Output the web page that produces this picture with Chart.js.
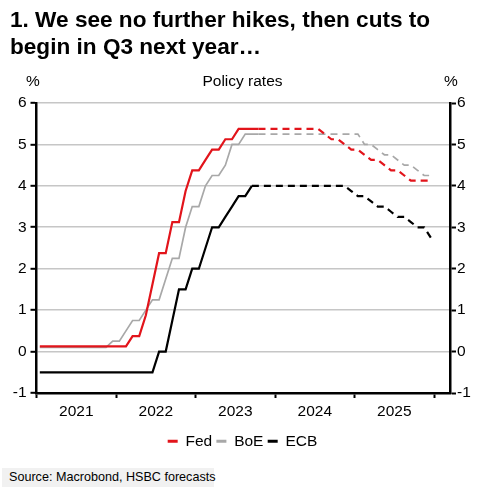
<!DOCTYPE html>
<html>
<head>
<meta charset="utf-8">
<script src="https://cdn.jsdelivr.net/npm/chart.js@4.4.0/dist/chart.umd.min.js"></script>
<style>
  html, body { margin: 0; padding: 0; background: #fff; }
  body { width: 485px; height: 500px; position: relative; overflow: hidden; }
  #wrap { position: absolute; left: 0; top: 0; width: 485px; height: 459px; }
  .txt { position: absolute; color: #000; white-space: nowrap; }
  #title { left: 10px; top: 6px; font: bold 22.6px 'Liberation Sans', Arial, sans-serif; line-height: 27px; }
  #sub { left: 0; width: 485px; text-align: center; top: 72px; }
  #pctL { left: 23px; width: 20px; text-align: center; top: 72px; }
  #pctR { left: 441px; width: 20px; text-align: center; top: 72px; }
  #src { left: 2px; top: 468px; height: 19px; width: 205px; padding-left: 7px; background: #f1f1f1; }
</style>
</head>
<body>
<div id="wrap"><canvas id="c"></canvas></div>
<div id="title" class="txt">1. We see no further hikes, then cuts to<br>begin in Q3 next year…</div>
<div id="sub" class="txt">Policy rates</div>
<div id="pctL" class="txt">%</div>
<div id="pctR" class="txt">%</div>
<div id="src" class="txt">Source: Macrobond, HSBC forecasts</div>
<script>
// ---- Data (monthly, Jan 2021 .. Dec 2025, month-end policy rates, %) ----
const yearLabels = ['2021', '2022', '2023', '2024', '2025'];
const yTicks = [6, 5, 4, 3, 2, 1, 0, -1];
const seriesNames = ['Fed', 'BoE', 'ECB'];
const lastActualIndex = [33, 33, 32]; // last month of actual data; forecast (dashed) after this

const fed = [
  0.125, 0.125, 0.125, 0.125, 0.125, 0.125, 0.125, 0.125, 0.125, 0.125, 0.125, 0.125, // 2021
  0.125, 0.125, 0.375, 0.375, 0.875, 1.625, 2.375, 2.375, 3.125, 3.125, 3.875, 4.375, // 2022
  4.375, 4.625, 4.875, 4.875, 5.125, 5.125, 5.375, 5.375, 5.375, 5.375, 5.375, 5.375, // 2023
  5.375, 5.375, 5.375, 5.375, 5.375, 5.375, 5.375, 5.25, 5.125, 5.125, 5.0, 4.875,    // 2024
  4.875, 4.75, 4.625, 4.625, 4.5, 4.375, 4.375, 4.25, 4.125, 4.125, 4.125, 4.125      // 2025
];
const boe = [
  0.1, 0.1, 0.1, 0.1, 0.1, 0.1, 0.1, 0.1, 0.1, 0.1, 0.1, 0.25,                       // 2021
  0.25, 0.5, 0.75, 0.75, 1.0, 1.25, 1.25, 1.75, 2.25, 2.25, 3.0, 3.5,                // 2022
  3.5, 4.0, 4.25, 4.25, 4.5, 5.0, 5.0, 5.25, 5.25, 5.25, 5.25, 5.25,                 // 2023
  5.25, 5.25, 5.25, 5.25, 5.25, 5.25, 5.25, 5.25, 5.25, 5.25, 5.25, 5.25,            // 2024
  5.25, 5.0, 5.0, 4.875, 4.75, 4.75, 4.625, 4.5, 4.5, 4.375, 4.25, 4.25              // 2025
];
const ecb = [
  -0.5, -0.5, -0.5, -0.5, -0.5, -0.5, -0.5, -0.5, -0.5, -0.5, -0.5, -0.5,            // 2021
  -0.5, -0.5, -0.5, -0.5, -0.5, -0.5, 0.0, 0.0, 0.75, 1.5, 1.5, 2.0,                 // 2022
  2.0, 2.5, 3.0, 3.0, 3.25, 3.5, 3.75, 3.75, 4.0, 4.0, 4.0, 4.0,                     // 2023
  4.0, 4.0, 4.0, 4.0, 4.0, 4.0, 4.0, 4.0, 4.0, 4.0, 4.0, 3.875,                      // 2024
  3.75, 3.75, 3.625, 3.5, 3.5, 3.375, 3.25, 3.25, 3.125, 3.0, 3.0, 2.75              // 2025
];
const seriesValues = [fed, boe, ecb];
const seriesColors = ['#e2141b', '#a8a8a8', '#000000'];
const seriesWidths = [2.2, 1.7, 2.2];

// ---- Fonts: prefer a narrow sans (as in the reference), fall back to regular ----
const narrowOK = (() => {
  const c = document.createElement('canvas').getContext('2d');
  c.font = "40px 'Liberation Sans Narrow', monospace";
  const a = c.measureText('Policy rates 2021').width;
  c.font = "40px monospace";
  const b = c.measureText('Policy rates 2021').width;
  return Math.abs(a - b) > 1;
})();
const FAM = narrowOK ? "'Liberation Sans Narrow', 'Liberation Sans', Arial, sans-serif"
                     : "'Liberation Sans', Arial, sans-serif";
const FS = narrowOK ? 18 : 15.5;
const SRC_FS = narrowOK ? 15 : 12.6;
['sub', 'pctL', 'pctR'].forEach(id => {
  const el = document.getElementById(id);
  el.style.fontFamily = FAM; el.style.fontSize = FS + 'px'; el.style.lineHeight = '18px';
});
const srcEl = document.getElementById('src');
srcEl.style.fontFamily = FAM; srcEl.style.fontSize = SRC_FS + 'px'; srcEl.style.lineHeight = '19px';

// ---- Build datasets from arrays ----
const datasets = seriesNames.map((name, s) => ({
  label: name,
  data: seriesValues[s].map((v, i) => ({ x: i + 0.5, y: v })),
  borderColor: seriesColors[s],
  backgroundColor: seriesColors[s],
  borderWidth: seriesWidths[s],
  pointRadius: 0,
  pointHoverRadius: 0,
  tension: 0,
  fill: false,
  borderCapStyle: 'butt',
  order: s,
  segment: {
    borderDash: ctx => ctx.p0DataIndex >= lastActualIndex[s] ? [7, 5] : undefined
  }
}));

const CHART_BOTTOM = 393;
const legendPad = Math.max(0, 453 - 441 - FS / 2);

new Chart(document.getElementById('c'), {
  type: 'line',
  data: { datasets },
  options: {
    responsive: true,
    maintainAspectRatio: false,
    animation: false,
    events: [],
    layout: { padding: { top: 103, left: 0, right: 0, bottom: 0 } },
    plugins: {
      title: { display: false },
      tooltip: { enabled: false },
      legend: {
        display: true,
        position: 'bottom',
        align: 'center',
        labels: {
          boxWidth: 10,
          boxHeight: 3,
          padding: legendPad,
          color: '#000',
          font: { family: FAM, size: FS },
          generateLabels: chart => chart.data.datasets.map((d, i) => ({
            text: d.label,
            fillStyle: d.borderColor,
            strokeStyle: d.borderColor,
            lineWidth: 0,
            hidden: false,
            datasetIndex: i,
            fontColor: '#000'
          }))
        }
      }
    },
    scales: {
      x: {
        type: 'linear',
        min: 0,
        max: 62.4,
        afterBuildTicks: axis => {
          const t = [];
          for (let v = 0; v <= 60; v += 6) t.push({ value: v });
          axis.ticks = t;
        },
        afterFit: scale => {
          const ch = scale.chart;
          const lh = ch.legend ? ch.legend.height : 0;
          scale.height = ch.height - CHART_BOTTOM - lh;
        },
        ticks: {
          autoSkip: false,
          maxRotation: 0,
          padding: 4,
          color: '#000',
          font: { family: FAM, size: FS },
          callback: v => (v % 12 === 6) ? yearLabels[(v - 6) / 12] : ''
        },
        grid: {
          drawOnChartArea: false,
          drawTicks: true,
          tickLength: 5,
          tickWidth: 2,
          tickColor: ctx => (ctx.tick && ctx.tick.value % 12 === 0) ? '#000' : 'rgba(0,0,0,0)'
        },
        border: { display: true, color: '#000', width: 2.5 }
      },
      y: {
        position: 'left',
        min: -1,
        max: 6,
        afterBuildTicks: axis => { axis.ticks = yTicks.map(v => ({ value: v })); },
        afterFit: scale => { scale.width = 36.5; },
        ticks: {
          padding: 4,
          color: '#000',
          font: { family: FAM, size: FS },
          callback: v => String(v)
        },
        grid: {
          color: '#c6c6c6',
          lineWidth: 1.6,
          drawTicks: true,
          tickLength: 6,
          tickWidth: 2,
          tickColor: '#000'
        },
        border: { display: true, color: '#000', width: 2.5 }
      },
      y2: {
        position: 'right',
        min: -1,
        max: 6,
        afterBuildTicks: axis => { axis.ticks = yTicks.map(v => ({ value: v })); },
        afterFit: scale => { scale.width = 35; },
        ticks: {
          padding: 1,
          color: '#000',
          font: { family: FAM, size: FS },
          callback: v => String(v)
        },
        grid: {
          drawOnChartArea: false,
          drawTicks: true,
          tickLength: 6,
          tickWidth: 2,
          tickColor: '#000'
        },
        border: { display: true, color: '#000', width: 2.5 }
      }
    }
  }
});
</script>
</body>
</html>
